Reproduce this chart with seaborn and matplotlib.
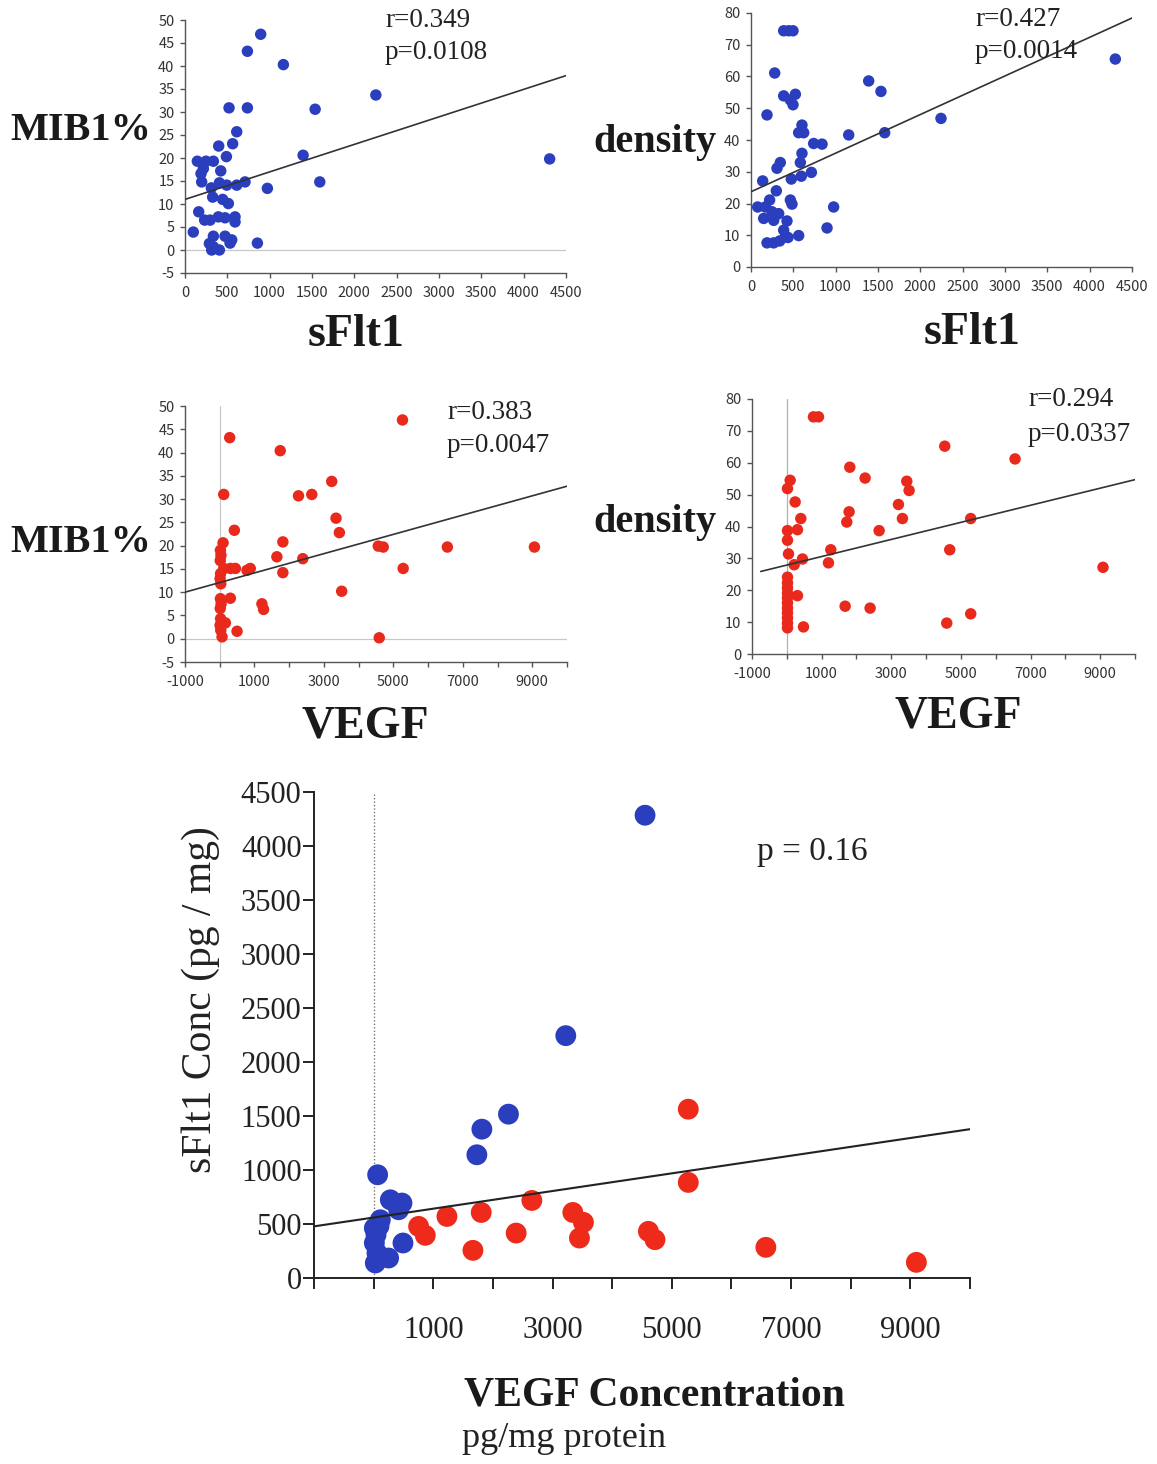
import numpy as np
import pandas as pd
import matplotlib
matplotlib.use("Agg")
import matplotlib.pyplot as plt
import seaborn as sns

# ---------------- data ----------------
# Panel A: sFlt1 vs MIB1%
a_sflt1 = [894, 737, 1162, 2254, 520, 737, 1537, 611, 563, 398, 489, 1395, 4307, 146, 248,
           335, 217, 422, 189, 197, 406, 493, 611, 709, 1592, 973, 311, 327, 445, 512,
           162, 232, 296, 394, 473, 591, 591, 98, 288, 335, 473, 532, 552, 335, 406, 315, 855]
a_mib1 = [46.9, 43.2, 40.3, 33.7, 30.9, 30.9, 30.6, 25.7, 23.1, 22.6, 20.3, 20.6, 19.8, 19.3, 19.3,
          19.3, 17.7, 17.2, 16.6, 14.8, 14.6, 14.1, 14.1, 14.8, 14.8, 13.4, 13.5, 11.5, 11.0, 10.1,
          8.3, 6.5, 6.5, 7.2, 7.0, 7.2, 6.1, 3.9, 1.4, 3.0, 3.0, 1.5, 2.2, 0.7, 0.0, 0.0, 1.5]
a_fit = (11.0, 0.00598)          # intercept, slope
a_stats = ["r=0.349", "p=0.0108"]

# Panel B: sFlt1 vs density
b_sflt1 = [386, 445, 496, 4303, 280, 1390, 1535, 386, 524, 465, 496, 189, 2244, 602, 563,
           622, 1579, 1154, 740, 839, 602, 583, 346, 307, 476, 594, 713, 138, 299, 220,
           79, 169, 465, 484, 976, 248, 150, 327, 268, 425, 386, 898, 406, 563, 189, 268, 339, 437]
b_density = [74.4, 74.4, 74.4, 65.5, 61.1, 58.6, 55.3, 53.9, 54.4, 52.6, 51.1, 47.9, 46.8, 44.7, 42.3,
             42.3, 42.3, 41.6, 38.9, 38.7, 35.8, 32.9, 32.9, 31.1, 27.7, 28.6, 29.8, 27.1, 24.0, 21.1,
             18.9, 18.9, 21.1, 19.8, 18.9, 17.4, 15.3, 16.8, 14.7, 14.5, 11.6, 12.3, 9.5, 9.9, 7.6, 7.6, 8.2, 9.3]
b_fit = (23.7, 0.01216)
b_stats = ["r=0.427", "p=0.0014"]

# Panel C: VEGF vs MIB1%
c_vegf = [5263, 287, 1742, 3225, 115, 2268, 2651, 3349, 3445, 421, 1818, 96, 4565, 4708, 6555,
          9062, 20, 35, 15, 1646, 2392, 306, 450, 115, 785, 880, 1818, 5282, 25, 10, 30,
          3512, 306, 20, 40, 15, 1215, 1263, 25, 163, 10, 30, 498, 67, 4593]
c_mib1 = [47.0, 43.2, 40.4, 33.8, 31.0, 30.7, 31.0, 25.9, 22.8, 23.3, 20.8, 20.6, 19.9, 19.7, 19.7,
          19.7, 19.0, 17.9, 16.8, 17.6, 17.2, 15.1, 15.1, 15.1, 14.7, 15.1, 14.2, 15.1, 14.0, 12.9, 11.8,
          10.2, 8.7, 8.6, 7.5, 6.5, 7.5, 6.3, 4.3, 3.4, 2.9, 1.8, 1.6, 0.4, 0.2]
c_fit = (12.07, 0.00207)
c_stats = ["r=0.383", "p=0.0047"]

# Panel D: VEGF vs density
d_vegf = [766, 909, 4536, 6555, 1809, 2249, 96, 19, 3445, 3512, 239, 3206, 402, 3321, 5282,
          1789, 1722, 19, 306, 2651, 19, 48, 1263, 4679, 450, 211, 1196, 9081, 19, 19,
          19, 19, 306, 19, 19, 19, 1675, 2392, 5282, 19, 19, 19, 19, 4593, 478]
d_density = [74.4, 74.4, 65.2, 61.2, 58.6, 55.2, 54.5, 51.9, 54.2, 51.3, 47.7, 46.9, 42.5, 42.5, 42.5,
             44.6, 41.4, 38.7, 39.0, 38.7, 35.7, 31.4, 32.7, 32.7, 29.8, 28.0, 28.6, 27.2, 24.1, 22.3,
             20.7, 19.1, 18.3, 17.6, 16.0, 14.4, 15.0, 14.4, 12.6, 12.9, 11.3, 9.7, 8.2, 9.7, 8.5]
d_fit = (27.9, 0.00268)
d_stats = ["r=0.294", "p=0.0337"]

# Panel E: VEGF concentration vs sFlt1 concentration (two groups)
e_blue_vegf = [4551, 3222, 2261, 1815, 1731, 67, 280, 475, 419, 112, 12, 492, 12, 56, 251, 28, 40, 90]
e_blue_sflt1 = [4285, 2244, 1517, 1378, 1141, 956, 724, 694, 632, 539, 462, 324, 324, 231, 185, 139, 400, 480]
e_red_vegf = [5276, 5276, 2653, 1804, 1229, 754, 866, 2390, 1665, 3340, 3518, 3451, 4607, 4718, 6577, 9101]
e_red_sflt1 = [1563, 885, 718, 607, 570, 478, 395, 416, 256, 607, 515, 370, 432, 355, 284, 145]
e_fit = (560.0, 0.0818)
e_stats = "p = 0.16"

# tick labels
sflt1_ticks = list(range(0, 4501, 500))
sflt1_labels = [str(v) for v in sflt1_ticks]
mib_ticks = list(range(-5, 51, 5))
mib_labels = [str(v) for v in mib_ticks]
dens_ticks = list(range(0, 81, 10))
dens_labels = [str(v) for v in dens_ticks]
vegf_ticks = list(range(-1000, 10001, 1000))
vegf_labels_mid = ["-1000", "", "1000", "", "3000", "", "5000", "", "7000", "", "9000", ""]
vegf_labels_big = ["", "", "1000", "", "3000", "", "5000", "", "7000", "", "9000", ""]
conc_ticks = list(range(0, 4501, 500))
conc_labels = [str(v) for v in conc_ticks]

BLUE = "#2b3fbe"
RED = "#e8291c"

# ---------------- figure ----------------
W, H, DPI = 1157, 1464, 100
sns.set_theme(style="ticks")
plt.rcParams['font.family'] = ['Noto Sans CJK JP', 'DejaVu Sans']
SERIF = ['Liberation Serif', 'DejaVu Serif']

fig = plt.figure(figsize=(W / DPI, H / DPI), dpi=DPI)
fig.patch.set_facecolor("white")


def px_axes(x0, y0, x1, y1):
    return fig.add_axes([x0 / W, 1 - y1 / H, (x1 - x0) / W, (y1 - y0) / H])


def ftext(x, y, s, **kw):
    fig.text(x / W, 1 - y / H, s, **kw)


def small_panel(ax, x, y, color, xlim, ylim, xt, xl, yt, yl, fit, fit_range):
    df = pd.DataFrame({"x": x, "y": y})
    sns.scatterplot(data=df, x="x", y="y", color=color, s=68, edgecolor="none",
                    ax=ax, legend=False, zorder=3, clip_on=False)
    lx = np.array(fit_range, dtype=float)
    ldf = pd.DataFrame({"x": lx, "y": fit[0] + fit[1] * lx})
    sns.lineplot(data=ldf, x="x", y="y", color="#333333", lw=1.2, ax=ax, zorder=4)
    ax.set_xlim(*xlim)
    ax.set_ylim(*ylim)
    ax.set_xticks(xt)
    ax.set_xticklabels(xl)
    ax.set_yticks(yt)
    ax.set_yticklabels(yl)
    ax.set_xlabel("")
    ax.set_ylabel("")
    for s in ["top", "right"]:
        ax.spines[s].set_visible(False)
    for s in ["left", "bottom"]:
        ax.spines[s].set_color("#555555")
        ax.spines[s].set_linewidth(1.0)
    ax.tick_params(axis="both", colors="#555555", labelcolor="#333333", labelsize=10.5,
                   length=3.5, width=1.0, direction="out")
    ax.tick_params(axis="y", pad=4)
    ax.tick_params(axis="x", pad=6)
    ax.set_facecolor("white")


# Panel A
axA = px_axes(185, 20, 566, 273)
small_panel(axA, a_sflt1, a_mib1, BLUE, (0, 4500), (-5, 50), sflt1_ticks, sflt1_labels,
            mib_ticks, mib_labels, a_fit, (0, 4500))
axA.axhline(0, color="#c8c8c8", lw=0.9, zorder=1)

# Panel B
axB = px_axes(751, 13, 1132, 267)
small_panel(axB, b_sflt1, b_density, BLUE, (0, 4500), (0, 80), sflt1_ticks, sflt1_labels,
            dens_ticks, dens_labels, b_fit, (0, 4500))

# Panel C
axC = px_axes(185, 406, 567, 662)
small_panel(axC, c_vegf, c_mib1, RED, (-1000, 10000), (-5, 50), vegf_ticks, vegf_labels_mid,
            mib_ticks, mib_labels, c_fit, (-1000, 10000))
axC.axhline(0, color="#c8c8c8", lw=0.9, zorder=1)
axC.axvline(0, color="#c8c8c8", lw=0.9, zorder=1)

# Panel D
axD = px_axes(752, 399, 1135, 654)
small_panel(axD, d_vegf, d_density, RED, (-1000, 10000), (0, 80), vegf_ticks, vegf_labels_mid,
            dens_ticks, dens_labels, d_fit, (-750, 10000))
axD.axvline(0, color="#b0b0b0", lw=0.9, zorder=1)

# Panel E
axE = px_axes(314, 792, 970, 1278)
edf = pd.DataFrame({
    "vegf": e_blue_vegf + e_red_vegf,
    "sflt1": e_blue_sflt1 + e_red_sflt1,
    "group": ["blue"] * len(e_blue_vegf) + ["red"] * len(e_red_vegf),
})
sns.scatterplot(data=edf, x="vegf", y="sflt1", hue="group",
                palette={"blue": BLUE, "red": "#ee2b1b"}, s=225, edgecolor="none",
                ax=axE, legend=False, zorder=3, clip_on=False)
elx = np.array([-1000, 10000], dtype=float)
eldf = pd.DataFrame({"x": elx, "y": e_fit[0] + e_fit[1] * elx})
sns.lineplot(data=eldf, x="x", y="y", color="#222222", lw=1.5, ax=axE, zorder=4)
axE.axvline(0, color="#777777", lw=1.0, ls=(0, (1, 1.5)), zorder=1)
axE.set_xlim(-1000, 10000)
axE.set_ylim(0, 4500)
axE.set_xticks(vegf_ticks)
axE.set_xticklabels(vegf_labels_big)
axE.set_yticks(conc_ticks)
axE.set_yticklabels(conc_labels)
axE.set_xlabel("")
axE.set_ylabel("")
for s in ["top", "right"]:
    axE.spines[s].set_visible(False)
for s in ["left", "bottom"]:
    axE.spines[s].set_color("#222222")
    axE.spines[s].set_linewidth(1.4)
axE.tick_params(axis="both", colors="#222222", labelcolor="#222222", length=8, width=1.4,
                direction="out", labelsize=22)
axE.tick_params(axis="y", pad=1)
axE.tick_params(axis="x", pad=19)
for lab in axE.get_xticklabels() + axE.get_yticklabels():
    lab.set_family(SERIF)

# ---------------- texts ----------------
bold = dict(family=SERIF, fontweight="bold", color="#1a1a1a")
ftext(10, 140, "MIB1%", fontsize=29, ha="left", va="baseline", **bold)
ftext(10, 552, "MIB1%", fontsize=29, ha="left", va="baseline", **bold)
ftext(593, 152, "density", fontsize=29, ha="left", va="baseline", **bold)
ftext(593, 532, "density", fontsize=29, ha="left", va="baseline", **bold)
ftext(356, 346, "sFlt1", fontsize=33, ha="center", va="baseline", **bold)
ftext(972, 344, "sFlt1", fontsize=33, ha="center", va="baseline", **bold)
ftext(365, 738, "VEGF", fontsize=33, ha="center", va="baseline", **bold)
ftext(958, 728, "VEGF", fontsize=33, ha="center", va="baseline", **bold)

reg = dict(family=SERIF, color="#222222")
ftext(385, 27, a_stats[0], fontsize=19.5, ha="left", va="baseline", **reg)
ftext(385, 59, a_stats[1], fontsize=19.5, ha="left", va="baseline", **reg)
ftext(975, 26, b_stats[0], fontsize=19.5, ha="left", va="baseline", **reg)
ftext(975, 58, b_stats[1], fontsize=19.5, ha="left", va="baseline", **reg)
ftext(447, 419, c_stats[0], fontsize=19.5, ha="left", va="baseline", **reg)
ftext(447, 452, c_stats[1], fontsize=19.5, ha="left", va="baseline", **reg)
ftext(1028, 406, d_stats[0], fontsize=19.5, ha="left", va="baseline", **reg)
ftext(1028, 441, d_stats[1], fontsize=19.5, ha="left", va="baseline", **reg)
ftext(757, 860, e_stats, fontsize=24, ha="left", va="baseline", **reg)

ftext(654, 1405, "VEGF Concentration", fontsize=30, ha="center", va="baseline", **bold)
ftext(462, 1447, "pg/mg protein", fontsize=26, ha="left", va="baseline", **reg)
ftext(201, 1000, "sFlt1 Conc (pg / mg)", fontsize=30, rotation=90, ha="center", va="center", **reg)

fig.savefig("out.png", dpi=DPI, facecolor="white")
